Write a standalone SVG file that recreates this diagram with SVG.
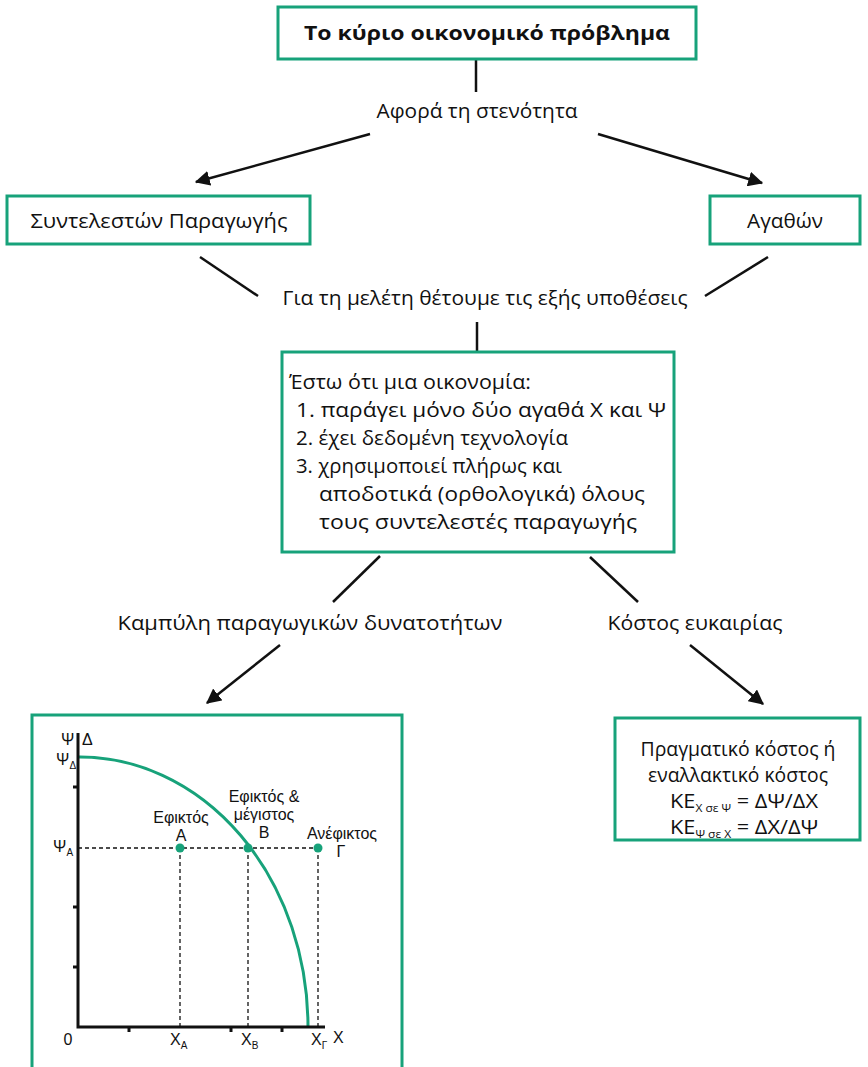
<svg xmlns="http://www.w3.org/2000/svg" width="868" height="1067" viewBox="0 0 868 1067">
<style>
.box{fill:#fff;stroke:#17a27a;stroke-width:3}
.t{font-family:"Open Sans","Noto Sans","DejaVu Sans",sans-serif;font-size:20px;fill:#111}
.c{text-anchor:middle}
.g{font-family:"Liberation Sans","Open Sans",sans-serif;font-size:16px;fill:#111}
.ln{stroke:#111;stroke-width:2.5;fill:none}
.ax{stroke:#111;stroke-width:3;fill:none}
.dash{stroke:#111;stroke-width:1.3;stroke-dasharray:4 3;fill:none}
.dot{fill:#17a27a}
</style>
<defs>
<marker id="ah" viewBox="0 0 12 12" refX="11" refY="6" markerWidth="6" markerHeight="6" orient="auto" markerUnits="strokeWidth">
<path d="M0,0 L12,6 L0,12 Z" fill="#111"/>
</marker>
</defs>
<rect width="868" height="1067" fill="#fff"/>

<g id="connectors">
<line class="ln" x1="476" y1="59" x2="476" y2="92"/>
<line class="ln" x1="370" y1="134" x2="196" y2="182" marker-end="url(#ah)"/>
<line class="ln" x1="598" y1="134" x2="762" y2="183" marker-end="url(#ah)"/>
<line class="ln" x1="200" y1="257" x2="258" y2="296"/>
<line class="ln" x1="768" y1="257" x2="705" y2="296"/>
<line class="ln" x1="477" y1="322" x2="477" y2="352"/>
<line class="ln" x1="380" y1="556" x2="333" y2="602"/>
<line class="ln" x1="590" y1="557" x2="638" y2="602"/>
<line class="ln" x1="280" y1="645" x2="207" y2="703" marker-end="url(#ah)"/>
<line class="ln" x1="690" y1="645" x2="763" y2="704" marker-end="url(#ah)"/>
</g>

<g id="title">
<rect class="box" x="278" y="7" width="418" height="52"/>
<text class="t c" x="487" y="40" font-weight="bold" textLength="366" lengthAdjust="spacingAndGlyphs">Το κύριο οικονομικό πρόβλημα</text>
</g>

<g id="scarcity">
<text class="t c" x="477" y="118" textLength="201" lengthAdjust="spacingAndGlyphs">Αφορά τη στενότητα</text>
</g>

<g id="factors">
<rect class="box" x="7" y="196" width="303" height="48"/>
<text class="t c" x="159" y="228" textLength="257" lengthAdjust="spacingAndGlyphs">Συντελεστών Παραγωγής</text>
</g>

<g id="goods">
<rect class="box" x="710" y="196" width="150" height="48"/>
<text class="t c" x="785" y="228" textLength="76" lengthAdjust="spacingAndGlyphs">Αγαθών</text>
</g>

<g id="assumptions-label">
<text class="t c" x="485" y="305" textLength="405" lengthAdjust="spacingAndGlyphs">Για τη μελέτη θέτουμε τις εξής υποθέσεις</text>
</g>

<g id="assumptions">
<rect class="box" x="282" y="352" width="392" height="200"/>
<text class="t" x="289" y="389" textLength="242" lengthAdjust="spacingAndGlyphs">Έστω ότι μια οικονομία:</text>
<text class="t" x="296" y="417" textLength="370" lengthAdjust="spacingAndGlyphs">1. παράγει μόνο δύο αγαθά Χ και Ψ</text>
<text class="t" x="296" y="445" textLength="272" lengthAdjust="spacingAndGlyphs">2. έχει δεδομένη τεχνολογία</text>
<text class="t" x="296" y="473" textLength="266" lengthAdjust="spacingAndGlyphs">3. χρησιμοποιεί πλήρως και</text>
<text class="t" x="319" y="501" textLength="326" lengthAdjust="spacingAndGlyphs">αποδοτικά (ορθολογικά) όλους</text>
<text class="t" x="319" y="529" textLength="318" lengthAdjust="spacingAndGlyphs">τους συντελεστές παραγωγής</text>
</g>

<g id="ppc-label">
<text class="t c" x="310" y="630" textLength="385" lengthAdjust="spacingAndGlyphs">Καμπύλη παραγωγικών δυνατοτήτων</text>
</g>

<g id="oc-label">
<text class="t c" x="695" y="630" textLength="175" lengthAdjust="spacingAndGlyphs">Κόστος ευκαιρίας</text>
</g>

<g id="ppc-graph">
<rect class="box" x="32" y="715" width="370" height="360"/>
<line class="dash" x1="78" y1="848" x2="318" y2="848"/>
<line class="dash" x1="180" y1="848" x2="180" y2="1027"/>
<line class="dash" x1="248" y1="848" x2="248" y2="1027"/>
<line class="dash" x1="318" y1="848" x2="318" y2="1027"/>
<path d="M78,757 A228,270 0 0 1 308,1027" fill="none" stroke="#17a27a" stroke-width="3"/>
<polyline class="ax" points="78,733 78,1027 325,1027"/>
<g stroke="#111" stroke-width="3">
<line x1="73" y1="787" x2="78" y2="787"/>
<line x1="73" y1="907" x2="78" y2="907"/>
<line x1="73" y1="967" x2="78" y2="967"/>
<line x1="129" y1="1027" x2="129" y2="1032"/>
<line x1="231" y1="1027" x2="231" y2="1032"/>
<line x1="282" y1="1027" x2="282" y2="1032"/>
</g>
<circle class="dot" cx="180" cy="848" r="4.5"/>
<circle class="dot" cx="248" cy="848" r="4.5"/>
<circle class="dot" cx="318" cy="848" r="4.5"/>
<text class="g" x="61" y="745">Ψ<tspan x="82">Δ</tspan></text>
<text class="g" x="56" y="765">Ψ<tspan font-size="10" dy="4">Δ</tspan></text>
<text class="g" x="53" y="852">Ψ<tspan font-size="10" dy="4">Α</tspan></text>
<text class="g c" x="68" y="1045">0</text>
<text class="g" x="170" y="1045">Χ<tspan font-size="10" dy="4">Α</tspan></text>
<text class="g" x="241" y="1045">Χ<tspan font-size="10" dy="4">Β</tspan></text>
<text class="g" x="311" y="1045">Χ<tspan font-size="10" dy="4">Γ</tspan></text>
<text class="g" x="333" y="1043">Χ</text>
<text class="g c" x="181" y="823">Εφικτός<tspan x="181" dy="18">Α</tspan></text>
<text class="g c" x="264" y="802">Εφικτός &amp;<tspan x="264" dy="18">μέγιστος</tspan><tspan x="264" dy="18">Β</tspan></text>
<text class="g c" x="342" y="839">Ανέφικτος<tspan x="341" dy="18">Γ</tspan></text>
</g>

<g id="real-cost">
<rect class="box" x="615" y="718" width="245" height="122"/>
<text class="t c" x="738" y="756" textLength="195" lengthAdjust="spacingAndGlyphs">Πραγματικό κόστος ή</text>
<text class="t c" x="738" y="782" textLength="180" lengthAdjust="spacingAndGlyphs">εναλλακτικό κόστος</text>
<text class="t c" x="744" y="808" textLength="148" lengthAdjust="spacingAndGlyphs">ΚΕ<tspan font-size="11" dy="4">Χ σε Ψ</tspan><tspan dy="-4"> = ΔΨ/ΔΧ</tspan></text>
<text class="t c" x="744" y="834" textLength="148" lengthAdjust="spacingAndGlyphs">ΚΕ<tspan font-size="11" dy="4">Ψ σε Χ</tspan><tspan dy="-4"> = ΔΧ/ΔΨ</tspan></text>
</g>
</svg>
